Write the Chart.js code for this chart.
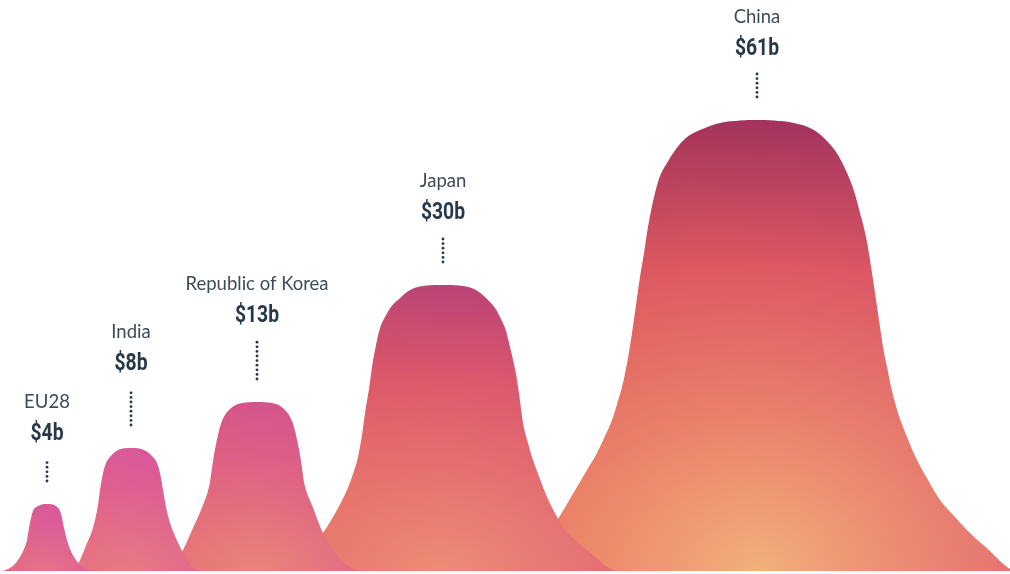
<!DOCTYPE html>
<html>
<head>
<meta charset="utf-8">
<script src="https://cdn.jsdelivr.net/npm/chart.js@4.4.0/dist/chart.umd.min.js"></script>
<style>
  html, body { margin: 0; padding: 0; background: #fff; }
  canvas { display: block; }
</style>
</head>
<body>
<canvas id="mountains" width="1010" height="574"></canvas>
<script>
const countries = ['EU28', 'India', 'Republic of Korea', 'Japan', 'China'];
const values = [4, 8, 13, 30, 61];

// outline of each mountain as [position, height] pairs
const eu28Outline = [[3,0],[8,2],[14,6],[20,14],[24,22],[27,31],[29,43],[31,53],[33,60],[38,65],[47,67],[56,65],[60,60],[62,53],[64,43],[67,31],[70,22],[74,14],[80,6],[86,2],[91,0]];
const indiaOutline = [[66,0],[72,3],[79,9],[87,28],[92,40],[95,51],[98,66],[100,81],[103,98],[106,108],[110,114],[118,121],[131,123],[144,121],[153,114],[157,108],[160,98],[163,81],[166,64],[170,48],[175,35],[180,24],[186,13],[193,4],[200,0]];
const koreaOutline = [[166,0],[172,3],[182,19],[193,43],[203,66],[208,80],[210,89],[212,103],[214,116],[218,136],[222,150],[230,162],[242,168],[257,169],[272,168],[284,162],[292,150],[296,136],[300,116],[302,103],[304,89],[307,78],[312,66],[322,40],[330,26],[337,16],[346,7],[356,1],[362,0]];
const japanOutline = [[272,0],[282,3],[299,16],[310,24],[320,34],[333,54],[347,81],[353,97],[358,114],[362,136],[365,158],[369,182],[372,204],[376,226],[380,243],[385,254],[391,264],[399,272],[410,281],[427,285.5],[443,286],[459,285.5],[476,281],[487,272],[495,263],[501,252],[506,240],[510,224],[514,207],[517,191],[520,170],[523,148],[528,128],[533,111],[540,92],[547,74],[555,58],[563,44],[575,31],[587,21],[600,10],[607,4],[615,0]];
const chinaOutline = [[498,0],[507,4],[525,20],[544,38],[557,51],[567,67],[577,84],[587,101],[597,118],[605,135],[612,151],[618,170],[623,188],[628,213],[632,238],[636,266],[640,294],[644,318],[647,338],[651,360],[655,378],[660,395],[667,408],[676,422],[687,434],[700,441],[720,448],[740,450.5],[757,451],[774,450.5],[794,448],[814,441],[827,430],[838,416],[847,398],[854,380],[860,358],[866,334],[870,311],[875,278],[880,244],[883,224],[887,204],[892,180],[898,158],[907,134],[917,111],[928,91],[940,71],[955,54],[970,38],[990,20],[1007,4],[1016,0]];

const outlines = [eu28Outline, indiaOutline, koreaOutline, japanOutline, chinaOutline];

// colour stops from the foot of each mountain to its top
const fillStops = [
  ['#e5748a', '#e1688e', '#dc5e95', '#d85a9a'],
  ['#e77a84', '#e36c8a', '#de5f92', '#d9589a'],
  ['#ea8579', '#e4707f', '#dd5f87', '#d3548c'],
  ['#ed8c76', '#e6716f', '#db586c', '#bb4276'],
  ['#f2b07a', '#ea806c', '#dc5862', '#a2325c']
];
const dotLengths = [22, 36, 38, 24, 23];

const peakIndex = outlines.map(o => o.reduce((best, p, i) => p[1] > o[best][1] ? i : best, 0));
const fillCache = [];

function mountainFill(chart, i) {
  const stops = fillStops[i];
  if (!chart.chartArea || !chart.scales.x) return stops[2];
  const key = chart.width + 'x' + chart.height;
  if (fillCache[i] && fillCache[i].key === key) return fillCache[i].pattern;

  const peak = outlines[i][peakIndex[i]];
  const px = chart.scales.x.getPixelForValue(peak[0]);
  const base = chart.scales.y.getPixelForValue(0);
  const r = base - chart.scales.y.getPixelForValue(peak[1]);

  const c = document.createElement('canvas');
  c.width = chart.width;
  c.height = chart.height;
  const o = c.getContext('2d');

  o.save();
  o.translate(px, base);
  o.scale(i === 4 ? 1.4 : 1.9, 1);
  const g = o.createRadialGradient(0, 0, 0, 0, 0, r);
  g.addColorStop(0, stops[0]);
  g.addColorStop(0.35, stops[1]);
  g.addColorStop(0.68, stops[2]);
  g.addColorStop(1, stops[3]);
  o.fillStyle = g;
  o.fillRect(-3000, -3000, 6000, 6000);
  o.restore();

  // warmer on the left, pinker on the right
  const lg = o.createLinearGradient(px - r, 0, px + r, 0);
  lg.addColorStop(0, 'rgba(236,110,60,0.22)');
  lg.addColorStop(0.5, 'rgba(236,110,60,0)');
  lg.addColorStop(0.5, 'rgba(205,70,150,0)');
  lg.addColorStop(1, 'rgba(205,70,150,0.2)');
  o.fillStyle = lg;
  o.fillRect(0, 0, c.width, c.height);

  const pattern = chart.ctx.createPattern(c, 'no-repeat');
  fillCache[i] = { key, pattern };
  return pattern;
}

const peakLabels = {
  id: 'peakLabels',
  afterDatasetsDraw(chart) {
    const ctx = chart.ctx;
    ctx.save();
    ctx.textAlign = 'center';
    ctx.textBaseline = 'alphabetic';
    chart.data.datasets.forEach((ds, i) => {
      const pt = chart.getDatasetMeta(i).data[peakIndex[i]];
      const x = Math.round(pt.x);
      const dotBottom = pt.y - 23;
      const dotTop = dotBottom - dotLengths[i];

      ctx.fillStyle = '#27364a';
      for (let y = dotBottom; y >= dotTop - 0.5; y -= 4.6) {
        ctx.beginPath();
        ctx.arc(x, y, 1.4, 0, Math.PI * 2);
        ctx.fill();
      }

      // condensed bold value
      ctx.save();
      ctx.translate(x, dotTop - 19);
      ctx.scale(0.84, 1);
      ctx.fillStyle = '#26384a';
      ctx.font = 'bold 23px Roboto, "Noto Sans", sans-serif';
      ctx.fillText('$' + values[i] + 'b', 0, 0);
      ctx.restore();

      ctx.fillStyle = '#3e4b57';
      ctx.font = '18.5px Lato, "Noto Sans", sans-serif';
      ctx.fillText(countries[i], x, dotTop - 51);
    });
    ctx.restore();
  }
};

new Chart(document.getElementById('mountains'), {
  type: 'line',
  data: {
    datasets: outlines.map((o, i) => ({
      label: countries[i],
      data: o.map(([x, y]) => ({ x, y })),
      fill: 'origin',
      backgroundColor: ctx => mountainFill(ctx.chart, i),
      borderColor: 'transparent',
      borderWidth: 0,
      pointRadius: 0,
      cubicInterpolationMode: 'monotone'
    }))
  },
  options: {
    responsive: false,
    animation: false,
    layout: { padding: { left: 0, right: 0, top: 0, bottom: 3 } },
    scales: {
      x: { type: 'linear', min: 0, max: 1010, display: false },
      y: { min: 0, max: 571, display: false }
    },
    plugins: {
      legend: { display: false },
      tooltip: { enabled: false }
    }
  },
  plugins: [peakLabels]
});
</script>
</body>
</html>
